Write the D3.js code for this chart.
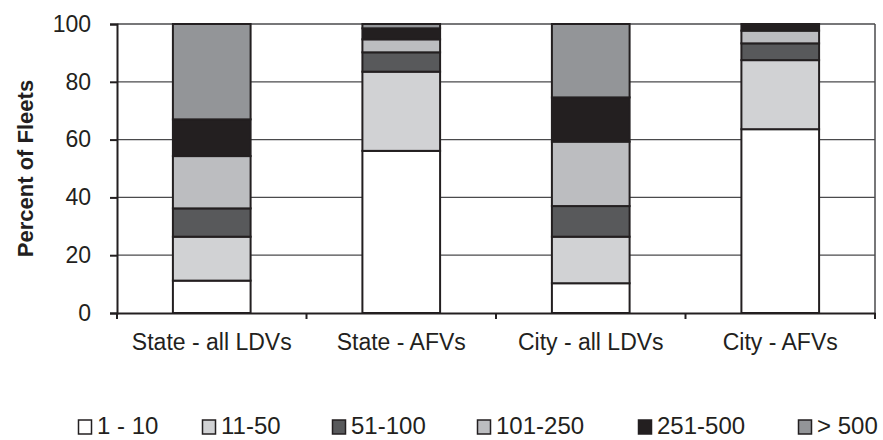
<!DOCTYPE html>
<html><head><meta charset="utf-8">
<script src="https://cdn.jsdelivr.net/npm/d3@7"></script>
<style>body{margin:0;background:#fff}text{font-family:"Liberation Sans",Arial,sans-serif;fill:#231f20}</style>
</head><body><svg id="c" width="883" height="440"></svg>
<script>
const categories = ["State - all LDVs", "State - AFVs", "City - all LDVs", "City - AFVs"];
const seriesNames = ["1 - 10", "11-50", "51-100", "101-250", "251-500", "> 500"];
const s1_10    = [11.2, 56.1, 10.3, 63.6];
const s11_50   = [15.2, 27.4, 16.1, 23.9];
const s51_100  = [9.8, 6.7, 10.6, 5.8];
const s101_250 = [18.1, 4.5, 22.3, 4.4];
const s251_500 = [12.7, 3.8, 15.3, 2.3];
const s500     = [33.0, 1.5, 25.4, 0.0];
const yTicks = [0, 20, 40, 60, 80, 100];
const colors = ["#ffffff", "#d1d2d4", "#58595b", "#bcbdc0", "#231f20", "#939598"];

const seriesVals = [s1_10, s11_50, s51_100, s101_250, s251_500, s500];
const rows = categories.map((c, i) => {
  const r = {cat: c};
  seriesNames.forEach((n, j) => r[n] = seriesVals[j][i]);
  return r;
});
const stack = d3.stack().keys(seriesNames)(rows);

const svg = d3.select("#c");
const L = 117, R = 875, T = 24, B = 313;
const x = d3.scaleBand().domain(categories).range([L, R]).paddingInner(0).paddingOuter(0);
const y = d3.scaleLinear().domain([0, 100]).range([B, T]);
const dark = "#231f20";

// gridlines
svg.append("g").selectAll("line").data(yTicks.filter(t => t > 0)).join("line")
  .attr("x1", L).attr("x2", R).attr("y1", d => y(d)).attr("y2", d => y(d))
  .attr("stroke", "#4a4a4c").attr("stroke-width", 1.3);
// right border
svg.append("line").attr("x1", R).attr("x2", R).attr("y1", T).attr("y2", B)
  .attr("stroke", "#4a4a4c").attr("stroke-width", 1.5);

// bars
const bw = x.bandwidth() * 0.41;
svg.append("g").selectAll("g").data(stack).join("g")
  .attr("fill", (d, i) => colors[i])
  .selectAll("rect").data(d => d.filter(p => p[1] - p[0] > 0)).join("rect")
  .attr("x", d => x(d.data.cat) + (x.bandwidth() - bw) / 2)
  .attr("width", bw)
  .attr("y", d => y(d[1]))
  .attr("height", d => y(d[0]) - y(d[1]))
  .attr("stroke", dark).attr("stroke-width", 2);

// y axis
const ya = svg.append("g").attr("transform", `translate(${L},0)`)
  .call(d3.axisLeft(y).tickValues(yTicks).tickSize(7).tickPadding(19));
ya.select(".domain").attr("stroke", dark).attr("stroke-width", 2);
ya.selectAll(".tick line").attr("stroke", dark).attr("stroke-width", 2);
ya.selectAll(".tick text").attr("font-size", 23).attr("fill", dark)
  .attr("font-family", "Liberation Sans, Arial, sans-serif");

// x axis
const xa = svg.append("g").attr("transform", `translate(0,${B})`)
  .call(d3.axisBottom(x).tickSize(0).tickPadding(21));
xa.select(".domain").attr("stroke", dark).attr("stroke-width", 2);
xa.selectAll(".tick text").attr("font-size", 23).attr("fill", dark)
  .attr("font-family", "Liberation Sans, Arial, sans-serif");
// boundary ticks
const bounds = categories.map(c => x(c)).concat([R]);
svg.append("g").selectAll("line").data(bounds).join("line")
  .attr("x1", d => d).attr("x2", d => d).attr("y1", B).attr("y2", B + 6)
  .attr("stroke", dark).attr("stroke-width", 2);

// y title
svg.append("text").attr("transform", `translate(33,${(T + B) / 2}) rotate(-90)`)
  .attr("text-anchor", "middle").attr("font-weight", "bold").attr("font-size", 22)
  .text("Percent of Fleets");

// legend
const legX = [78, 202, 332, 477, 638, 798];
const lg = svg.append("g").selectAll("g").data(seriesNames).join("g")
  .attr("transform", (d, i) => `translate(${legX[i]},0)`);
lg.append("rect").attr("x", 0.5).attr("y", 420).attr("width", 13).attr("height", 14)
  .attr("fill", (d, i) => colors[i]).attr("stroke", dark).attr("stroke-width", 1.5);
lg.append("text").attr("x", 19).attr("y", 434).attr("font-size", 24)
  .text(d => d);
</script></body></html>
